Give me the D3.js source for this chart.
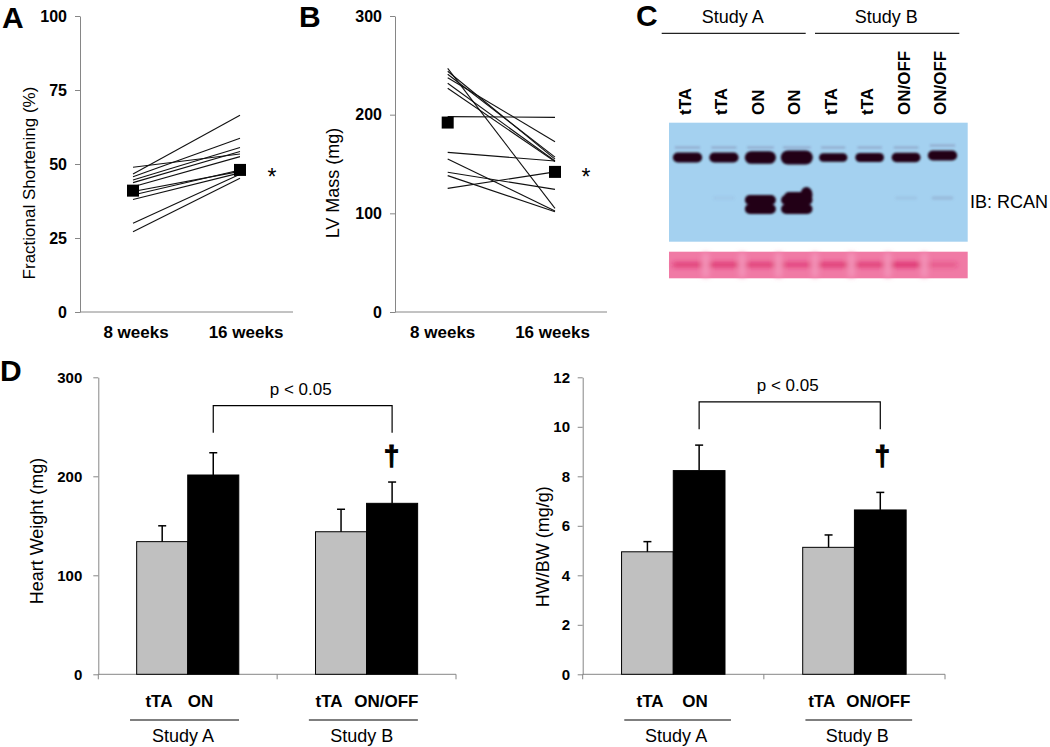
<!DOCTYPE html>
<html><head><meta charset="utf-8">
<script src="https://cdn.jsdelivr.net/npm/d3@7"></script>
<style>
body{margin:0;background:#fff}
svg{display:block}
text{font-family:"Liberation Sans",Arial,Helvetica,sans-serif}
</style>
</head><body>
<svg id="c" width="1050" height="747"></svg>
<script>
// ---------------- DATA ----------------
const weeks = ["8 weeks", "16 weeks"];
// Panel A: Fractional shortening (%) per animal
const fs8  = [48.9, 46.6, 45.7, 44.6, 43.7, 42.3, 40.7, 39.5, 38.0, 30.0, 27.1];
const fs16 = [53.4, 66.5, 58.7, 55.6, 54.2, 52.5, 47.5, 48.0, 47.0, 46.5, 45.2];
const fsMean = [41, 48];
const fsTicks = [0, 25, 50, 75, 100];
// Panel B: LV mass (mg) per animal
const lv8  = [198, 247, 244, 241, 237.5, 231.8, 226.7, 161.8, 155, 141.6, 138.2, 125.3];
const lv16 = [197.3, 105, 155, 157, 172.6, 153, 152.4, 153, 102.4, 124.3, 101.7, 142];
const lvMean = [192, 142];
const lvTicks = [0, 100, 200, 300];
// Panel C: western blot lanes
const blotLanes = ["tTA", "tTA", "ON", "ON", "tTA", "tTA", "ON/OFF", "ON/OFF"];
const blotStudies = ["Study A", "Study B"];
const blotUpper = [0.55, 0.55, 0.85, 1.0, 0.4, 0.45, 0.5, 0.55];
const blotLower = [0.0, 0.02, 1.0, 1.1, 0.0, 0.0, 0.03, 0.06];
const ponceau = [0.8, 0.85, 0.8, 0.7, 0.85, 0.8, 0.95, 0.45];
// Panel D
const groups = ["Study A", "Study B"];
const groupSeries = [["tTA", "ON"], ["tTA", "ON/OFF"]];
const hwMeans = [134, 201.3, 144, 172.7];
const hwErr   = [16, 22.5, 22.7, 21.5];
const hwTicks = [0, 100, 200, 300];
const hbMeans = [4.95, 8.23, 5.13, 6.64];
const hbErr   = [0.41, 1.03, 0.5, 0.71];
const hbTicks = [0, 2, 4, 6, 8, 10, 12];

// ---------------- DRAW ----------------
const svg = d3.select("#c");
const AXIS = "#868686";
const defs = svg.append("defs");
defs.append("filter").attr("id", "blur").attr("x", "-30%").attr("y", "-60%").attr("width", "160%").attr("height", "220%")
  .append("feGaussianBlur").attr("stdDeviation", 1.3);
defs.append("filter").attr("id", "blur2").attr("x", "-30%").attr("y", "-60%").attr("width", "160%").attr("height", "220%")
  .append("feGaussianBlur").attr("stdDeviation", 2.5);

function letter(t, x, y) {
  svg.append("text").attr("x", x).attr("y", y).text(t)
    .attr("font-size", 30).attr("font-weight", "bold").attr("fill", "#000");
}
letter("A", 2, 28); letter("B", 299, 27); letter("C", 636, 26); letter("D", 0, 381);

function styleAxis(g, fs) {
  g.select(".domain").attr("stroke", AXIS);
  g.selectAll(".tick line").attr("stroke", AXIS);
  g.selectAll(".tick text").attr("fill", "#000").attr("font-size", fs)
    .attr("font-weight", "bold").attr("font-family", '"Liberation Sans",Arial,sans-serif');
}

function pairedPanel(c) {
  const g = svg.append("g");
  const y = d3.scaleLinear().domain([0, c.max]).range([312, 16]);
  const x = d3.scalePoint().domain(weeks).range(c.pts);
  const ax = g.append("g").attr("transform", `translate(${c.ax},0)`)
    .call(d3.axisLeft(y).tickValues(c.ticks).tickSize(5).tickSizeOuter(0).tickPadding(8));
  styleAxis(ax, 16);
  g.append("line").attr("x1", c.ax).attr("x2", c.xEnd).attr("y1", y(0)).attr("y2", y(0))
    .attr("stroke", AXIS);
  c.v8.forEach((v, i) => {
    g.append("line").attr("x1", x(weeks[0])).attr("y1", y(v))
      .attr("x2", x(weeks[1])).attr("y2", y(c.v16[i]))
      .attr("stroke", "#111").attr("stroke-width", 1.1);
  });
  c.mean.forEach((v, i) => {
    g.append("rect").attr("x", x(weeks[i]) - 6).attr("y", y(v) - 6)
      .attr("width", 12).attr("height", 12).attr("fill", "#000");
  });
  weeks.forEach((w, i) => {
    g.append("text").attr("x", x(w) + c.lblDx[i]).attr("y", 338).attr("text-anchor", "middle")
      .attr("font-size", 17).attr("font-weight", "bold").text(w);
  });
  g.append("text").attr("transform", `translate(${c.labX},${c.labY}) rotate(-90)`)
    .attr("text-anchor", "middle").attr("font-size", c.labFs).text(c.label);
  g.append("text").attr("x", c.star[0]).attr("y", c.star[1] + 13).attr("text-anchor", "middle")
    .attr("font-size", 23).text("*");
}

pairedPanel({ax: 80, xEnd: 293, max: 100, ticks: fsTicks, pts: [133, 240], v8: fs8, v16: fs16, mean: fsMean,
  lblDx: [3, 6], label: "Fractional Shortening (%)", labX: 35, labY: 183, labFs: 17, star: [272, 172]});
pairedPanel({ax: 395, xEnd: 607, max: 300, ticks: lvTicks, pts: [447.7, 555], v8: lv8, v16: lv16, mean: lvMean,
  lblDx: [-5, -2.5], label: "LV Mass (mg)", labX: 339, labY: 183, labFs: 18, star: [586, 172]});

// ---------- Panel C: blot ----------
(function () {
  const g = svg.append("g");
  const lane = d3.scalePoint().domain(d3.range(blotLanes.length)).range([687.5, 942.5]);
  const lineSpans = [[661.7, 805.7], [815, 959.3]];
  blotStudies.forEach((s, i) => {
    const [a, b] = lineSpans[i];
    g.append("line").attr("x1", a).attr("x2", b).attr("y1", 33.3).attr("y2", 33.3)
      .attr("stroke", "#222").attr("stroke-width", 1.2);
    g.append("text").attr("x", (a + b) / 2 - 1).attr("y", 23).attr("text-anchor", "middle")
      .attr("font-size", 18).text(s);
  });
  blotLanes.forEach((l, i) => {
    g.append("text").attr("transform", `translate(${lane(i) + 3.5},115) rotate(-90)`)
      .attr("text-anchor", "start").attr("font-size", 17).attr("font-weight", "bold").text(l);
  });
  // membrane
  g.append("rect").attr("x", 669).attr("y", 122.7).attr("width", 298.7).attr("height", 119)
    .attr("fill", "#a4d1f0");
  const bands = g.append("g").attr("filter", "url(#blur)");
  blotLanes.forEach((l, i) => {
    const cx = lane(i);
    const v = blotUpper[i];
    const w = 26 + 6 * v, h = 5 + 9 * v;
    const cy = 157.5 - (i === 7 ? 2 : 0);
    bands.append("rect").attr("x", cx - w / 2 + 2).attr("y", 146.5 - (i === 7 ? 2 : 0)).attr("width", w - 4).attr("height", 2)
      .attr("rx", 1).attr("fill", "#5a4a70").attr("opacity", 0.3);
    bands.append("rect").attr("x", cx - w / 2).attr("y", cy - h / 2).attr("width", w).attr("height", h)
      .attr("rx", h / 2).attr("fill", "#220616");
    const lw = blotLower[i];
    if (lw > 0.5) {
      const bw = 27 + 4 * lw;
      bands.append("rect").attr("x", cx - bw / 2).attr("y", 195).attr("width", bw).attr("height", 10)
        .attr("rx", 5).attr("fill", "#220616");
      bands.append("rect").attr("x", cx - bw / 2).attr("y", 204).attr("width", bw).attr("height", 10)
        .attr("rx", 5).attr("fill", "#220616");
      if (lw > 1.05) {
        bands.append("ellipse").attr("cx", cx + bw / 2 - 6).attr("cy", 195).attr("rx", 6).attr("ry", 8)
          .attr("fill", "#220616");
        bands.append("rect").attr("x", cx - bw / 2 + 3).attr("y", 192).attr("width", bw - 8).attr("height", 10)
          .attr("rx", 5).attr("fill", "#220616");
      }
    } else if (lw > 0.01) {
      bands.append("rect").attr("x", cx - 11).attr("y", 196).attr("width", 22).attr("height", 4)
        .attr("rx", 2).attr("fill", "#7a84a8").attr("opacity", lw * 4);
    }
  });
  g.append("text").attr("x", 970).attr("y", 208).attr("font-size", 18).text("IB: RCAN");
  // ponceau strip
  g.append("rect").attr("x", 669).attr("y", 251.7).attr("width", 298.7).attr("height", 26.6)
    .attr("fill", "#f07aa5");
  const pg = g.append("g").attr("filter", "url(#blur2)");
  blotLanes.forEach((l, i) => {
    if (i > 0) {
      const gx = (lane(i) + lane(i - 1)) / 2;
      pg.append("rect").attr("x", gx - 3.5).attr("y", 253).attr("width", 7).attr("height", 24)
        .attr("fill", "#f392b7");
    }
    pg.append("rect").attr("x", lane(i) - 15).attr("y", 262.5).attr("width", 30).attr("height", 4.5)
      .attr("rx", 2).attr("fill", "#d81f62").attr("opacity", ponceau[i]);
  });
})();

// ---------- Panel D: bar charts ----------
function barPanel(c) {
  const g = svg.append("g");
  const y = d3.scaleLinear().domain([0, c.max]).range([674.3, 377.3]);
  const x0 = d3.scaleBand().domain(groups).range([c.ax, c.xEnd]);
  const pairW = x0.step() * 0.571;
  const off = (x0.step() - pairW) / 2;
  const x1 = d3.scaleBand().domain([0, 1]).range([0, pairW]);
  const ax = g.append("g").attr("transform", `translate(${c.ax},0)`)
    .call(d3.axisLeft(y).tickValues(c.ticks).tickSize(5).tickSizeOuter(0).tickPadding(c.pad));
  styleAxis(ax, 15);
  g.append("line").attr("x1", c.ax).attr("x2", c.xEnd).attr("y1", y(0)).attr("y2", y(0)).attr("stroke", AXIS);
  [c.ax, ...groups.map(gr => x0(gr) + x0.step())].forEach(tx => {
    g.append("line").attr("x1", tx).attr("x2", tx).attr("y1", y(0)).attr("y2", y(0) + 5).attr("stroke", AXIS);
  });
  const centers = [];
  groups.forEach((gr, gi) => {
    groupSeries[gi].forEach((s, si) => {
      const k = gi * 2 + si;
      const bx = x0(gr) + off + x1(si);
      const cx = bx + x1.bandwidth() / 2;
      centers.push(cx);
      g.append("rect").attr("x", bx).attr("y", y(c.means[k])).attr("width", x1.bandwidth())
        .attr("height", y(0) - y(c.means[k])).attr("fill", si === 0 ? "#c0c0c0" : "#000")
        .attr("stroke", "#000").attr("stroke-width", 1);
      const top = y(c.means[k] + c.err[k]);
      g.append("line").attr("x1", cx).attr("x2", cx).attr("y1", y(c.means[k])).attr("y2", top)
        .attr("stroke", "#000").attr("stroke-width", 1.5);
      g.append("line").attr("x1", cx - 4).attr("x2", cx + 4).attr("y1", top).attr("y2", top)
        .attr("stroke", "#000").attr("stroke-width", 1.5);
      g.append("text").attr("x", cx + c.lblDx[k]).attr("y", 706.7).attr("text-anchor", "middle")
        .attr("font-size", 17).attr("font-weight", "bold").text(s);
    });
    const gc = x0(gr) + x0.step() / 2;
    const [la, lb] = c.lineDx;
    g.append("line").attr("x1", gc + la).attr("x2", gc + lb).attr("y1", 720).attr("y2", 720)
      .attr("stroke", "#000").attr("stroke-width", 1.2);
    g.append("text").attr("x", gc + (la + lb) / 2 - 1.5).attr("y", 741.5).attr("text-anchor", "middle")
      .attr("font-size", 18).text(gr);
  });
  // significance bracket
  const bl = centers[1], br = centers[3];
  const bt = y(c.bracket[0]), bb = y(c.bracket[1]);
  g.append("path").attr("d", `M${bl},${bb}V${bt}H${br}V${bb}`).attr("fill", "none")
    .attr("stroke", "#000").attr("stroke-width", 1.2);
  g.append("text").attr("x", (bl + br) / 2 - 2).attr("y", bt - 10.5).attr("text-anchor", "middle")
    .attr("font-size", 17).text("p < 0.05");
  g.append("text").attr("x", br + c.dagDx).attr("y", 465).attr("text-anchor", "middle")
    .attr("font-size", 28).attr("font-weight", "bold").attr("stroke", "#000").attr("stroke-width", 1.1)
    .text("\u2020");
  g.append("text").attr("transform", `translate(${c.labX},${c.labY}) rotate(-90)`)
    .attr("text-anchor", "middle").attr("font-size", 18).text(c.label);
}

barPanel({ax: 98.3, xEnd: 456, max: 300, ticks: hwTicks, means: hwMeans, err: hwErr, pad: 11,
  lblDx: [-3.2, -12.8, -12, -5.8], lineDx: [-57.7, 51.3], bracket: [271.3, 244], dagDx: -0.5,
  label: "Heart Weight (mg)", labX: 43, labY: 531});
barPanel({ax: 582.7, xEnd: 945, max: 12, ticks: hbTicks, means: hbMeans, err: hbErr, pad: 7.7,
  lblDx: [2.6, -4.1, -6.9, -2], lineDx: [-49, 57.7], bracket: [11.01, 9.9], dagDx: 2,
  label: "HW/BW (mg/g)", labX: 549, labY: 546.7});
</script>
</body></html>
